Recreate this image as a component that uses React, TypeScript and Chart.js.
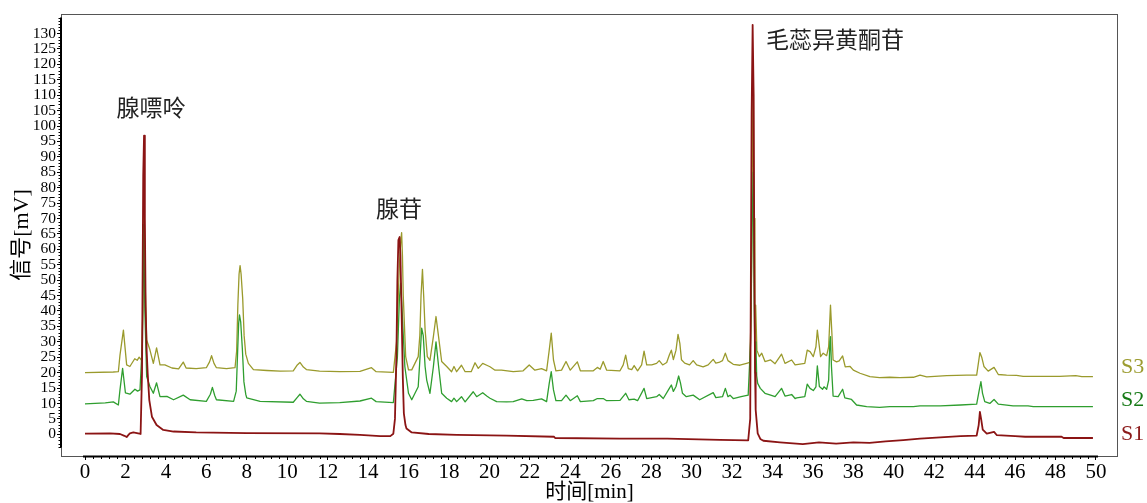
import { useEffect, useRef } from 'react';
import { Chart, registerables } from 'chart.js';
Chart.register(...registerables);

// ---- data ----
const xTickValues = [0, 2, 4, 6, 8, 10, 12, 14, 16, 18, 20, 22, 24, 26, 28, 30, 32, 34, 36, 38, 40, 42, 44, 46, 48, 50];
const yTickValues = [0, 5, 10, 15, 20, 25, 30, 35, 40, 45, 50, 55, 60, 65, 70, 75, 80, 85, 90, 95, 100, 105, 110, 115, 120, 125, 130];
const seriesNames = ['S1', 'S2', 'S3'];
const peakNames = ['腺嘌呤', '腺苷', '毛蕊异黄酮苷'];

// [time (min), signal (mV)]
const s1Points: [number, number][] = [
  [0, 0.2], [1.23, 0.3], [1.73, 0.1], [1.95, -0.5], [2.06, -0.9], [2.15, -0.2], [2.22, 0.3], [2.39, 0.6], [2.75, 0.1],
  [2.82, 20], [2.88, 84], [2.92, 96.9], [2.96, 70], [3.0, 41.4], [3.05, 27], [3.1, 19.8], [3.18, 11.1], [3.31, 5.7],
  [3.54, 3.0], [3.87, 1.4], [4.38, 0.9], [5.5, 0.6], [8.0, 0.4], [11.6, 0.3], [12.6, 0.1], [13.6, -0.2], [14.6, -0.6],
  [15.1, -0.6], [15.25, 0.2], [15.33, 5], [15.4, 25], [15.45, 50], [15.5, 63], [15.56, 64], [15.6, 58], [15.66, 39.2],
  [15.72, 18], [15.77, 6.8], [15.85, 3], [15.9, 1.9], [16.16, 0.6], [17.0, 0.1], [18.38, -0.2], [20.85, -0.4],
  [23.2, -0.8], [23.25, -1.2], [26.46, -1.4], [28.8, -1.4], [31.4, -1.8], [32.8, -2.0], [32.9, 5], [32.97, 104],
  [33.02, 132.8], [33.07, 110], [33.1, 60], [33.14, 20], [33.17, 7.9], [33.27, 0.3], [33.4, -1.5], [33.55, -2.1],
  [34.37, -2.6], [35.5, -3.2], [36.3, -2.6], [37.15, -3.0], [38.0, -2.6], [38.8, -2.8], [39.6, -2.3], [40.47, -1.9],
  [41.3, -1.4], [42.3, -1.0], [43.3, -0.6], [44.1, -0.4], [44.2, 3], [44.26, 7.3], [44.32, 5], [44.4, 1.5], [44.6, 0.2],
  [44.96, 0.8], [45.1, -0.3], [46.0, -0.6], [46.5, -0.8], [48.3, -0.8], [48.4, -1.2], [49.85, -1.2],
];

const s2Points: [number, number][] = [
  [0, 9.9], [1.0, 10.2], [1.4, 10.5], [1.65, 9.5], [1.73, 14.4], [1.86, 21.4], [2.0, 13.4], [2.22, 13.0], [2.47, 14.6],
  [2.6, 14.0], [2.72, 14.4], [2.84, 30], [2.9, 68], [2.96, 40], [3.05, 18.7], [3.21, 15.5], [3.38, 13.3], [3.54, 16.7],
  [3.71, 12.2], [4.05, 12.3], [4.38, 11.2], [4.86, 12.7], [5.2, 11.2], [6.0, 10.7], [6.2, 13], [6.3, 15.2], [6.42, 12.5],
  [6.5, 11.2], [7.35, 10.7], [7.48, 14], [7.55, 27], [7.6, 36], [7.64, 38.7], [7.7, 36.5], [7.78, 28], [7.86, 17],
  [7.95, 13], [8.0, 11.8], [8.66, 10.7], [10.3, 10.4], [10.5, 12], [10.63, 13], [10.8, 11.5], [10.95, 10.7], [11.6, 10.1],
  [12.6, 10.3], [13.6, 10.8], [14.17, 11.7], [14.4, 10.6], [15.25, 10.3], [15.45, 25], [15.55, 44], [15.61, 49],
  [15.67, 42], [15.72, 35], [15.82, 21.9], [16.0, 13.3], [16.16, 11.2], [16.48, 15.4], [16.57, 25], [16.65, 34.4],
  [16.73, 32], [16.82, 22], [16.9, 17.6], [17.06, 13.3], [17.23, 21.9], [17.36, 30], [17.49, 21.9], [17.64, 13.3],
  [17.89, 11.7], [18.13, 10.6], [18.25, 11.7], [18.38, 10.6], [18.62, 12.2], [18.8, 10.5], [19.2, 13.8], [19.37, 12.2],
  [19.67, 13.5], [19.87, 12.4], [20.03, 11.7], [20.36, 10.6], [20.85, 10.5], [21.18, 10.6], [21.6, 11.5], [21.85, 10.9],
  [22.17, 11.0], [22.58, 11.5], [22.83, 10.6], [22.96, 16.5], [23.06, 20.3], [23.17, 14.4], [23.29, 10.9], [23.57, 10.9],
  [23.79, 12.7], [24.0, 10.9], [24.35, 12.5], [24.5, 10.6], [25.14, 10.9], [25.34, 11.6], [25.63, 11.6], [25.8, 10.9],
  [26.46, 11.0], [26.74, 13.3], [26.9, 11.2], [27.16, 11.4], [27.33, 10.9], [27.65, 14.9], [27.78, 11.6], [28.27, 12.2],
  [28.4, 12.9], [28.6, 11.6], [28.9, 14.9], [29.0, 16], [29.1, 13.9], [29.23, 15.5], [29.36, 18.9], [29.45, 16.7],
  [29.55, 13.3], [29.74, 12.2], [30.08, 12.7], [30.4, 11.2], [31.07, 13.5], [31.2, 11.9], [31.53, 12.2], [31.67, 14.9],
  [31.8, 12.2], [31.9, 12.7], [32.06, 11.6], [32.45, 12.2], [32.8, 12.7], [32.92, 30], [33.0, 70], [33.05, 85],
  [33.1, 40], [33.15, 19.8], [33.18, 30], [33.22, 19], [33.27, 16.5], [33.4, 14.9], [33.63, 13.3], [33.91, 12.7],
  [34.13, 12.2], [34.45, 14.9], [34.62, 12.4], [34.95, 12.9], [35.12, 11.6], [35.2, 11.8], [35.6, 12.2], [35.72, 16.3],
  [35.86, 14.9], [36.02, 14.2], [36.15, 15.4], [36.22, 22.2], [36.28, 18.2], [36.32, 15.5], [36.48, 14.6], [36.55, 15.4],
  [36.68, 14.6], [36.78, 17.6], [36.84, 30], [36.87, 31.7], [36.92, 21.8], [37.0, 12.4], [37.25, 12.2], [37.47, 14.6],
  [37.58, 11.8], [37.91, 11.3], [38.16, 9.5], [38.66, 9.0], [39.3, 8.7], [39.8, 9.0], [40.97, 9.0], [41.3, 9.2],
  [42.3, 9.2], [43.3, 9.5], [44.1, 9.8], [44.23, 14.4], [44.31, 17.1], [44.39, 13.3], [44.5, 10.6], [44.75, 10.0],
  [44.96, 11.3], [45.17, 9.8], [45.9, 9.2], [46.64, 9.2], [46.9, 9.0], [48.2, 9.0], [49.85, 9.0],
];

const s3Points: [number, number][] = [
  [0, 20.0], [1.4, 20.2], [1.65, 20.3], [1.73, 25.7], [1.9, 33.8], [2.06, 22.5], [2.22, 22.0], [2.46, 24.5], [2.58, 24.0],
  [2.68, 25.0], [2.8, 24.0], [2.86, 40], [2.92, 80], [2.97, 50], [3.05, 30.6], [3.21, 27.4], [3.38, 23.0], [3.54, 28.0],
  [3.71, 22.5], [3.95, 22.5], [4.3, 21.5], [4.63, 21.2], [4.86, 23.4], [5.0, 21.5], [5.5, 21.3], [6.0, 21.6],
  [6.16, 23.5], [6.26, 25.5], [6.38, 23], [6.5, 21.6], [7.0, 21.3], [7.42, 21.6], [7.5, 27], [7.56, 42], [7.62, 52],
  [7.67, 54.7], [7.72, 52], [7.8, 44], [7.87, 32], [7.95, 26], [8.08, 23], [8.33, 21], [9.0, 20.7], [9.65, 20.5],
  [10.3, 20.6], [10.5, 22.5], [10.63, 23.3], [10.8, 21.8], [10.95, 21], [11.6, 20.5], [12.6, 20.3], [13.6, 20.4],
  [14.17, 21.6], [14.4, 20.3], [15.25, 20.1], [15.41, 30], [15.55, 55], [15.62, 63], [15.66, 65.4], [15.7, 58],
  [15.74, 45], [15.86, 25.2], [16.0, 20.9], [16.16, 20.9], [16.48, 25.2], [16.56, 32], [16.62, 45], [16.69, 53.5],
  [16.75, 45], [16.82, 34], [16.93, 25.2], [17.06, 24], [17.23, 31.7], [17.36, 38.2], [17.48, 32], [17.64, 23.6],
  [17.89, 22], [18.13, 20.3], [18.25, 22], [18.38, 20.3], [18.62, 22.4], [18.8, 20.3], [19.1, 20.3], [19.29, 23.2],
  [19.45, 21.4], [19.67, 23], [19.87, 22.4], [20.03, 21.9], [20.28, 20.8], [20.6, 20.8], [21.18, 20.3], [21.67, 20.6],
  [21.97, 22.5], [22.25, 20.8], [22.58, 21.3], [22.83, 20.6], [22.96, 27.3], [23.06, 32.8], [23.17, 24.1], [23.29, 20.6],
  [23.57, 20.8], [23.79, 23.6], [24.0, 20.8], [24.35, 23.5], [24.5, 20.6], [25.14, 20.6], [25.34, 21.7], [25.48, 21.1],
  [25.63, 23.6], [25.8, 20.8], [26.46, 20.6], [26.62, 22.5], [26.74, 25.7], [26.87, 21.3], [27.04, 21.0], [27.16, 22.3],
  [27.33, 20.6], [27.53, 22.5], [27.65, 27], [27.78, 22.5], [28.03, 22.5], [28.27, 23.0], [28.4, 23.9], [28.57, 22.5],
  [28.77, 23.3], [28.9, 25.7], [29.0, 27.3], [29.1, 24.2], [29.23, 27.3], [29.33, 32.4], [29.42, 29.5], [29.5, 24.2],
  [29.66, 23.1], [29.9, 22.5], [30.08, 23.9], [30.25, 22.5], [30.57, 21.9], [30.82, 22.5], [31.07, 24.3], [31.2, 23.1],
  [31.35, 23.3], [31.53, 23.9], [31.67, 26.3], [31.8, 23.9], [32.06, 22.7], [32.39, 22.4], [32.72, 23.0], [32.88, 23.3],
  [32.95, 40], [33.02, 100], [33.05, 120.3], [33.09, 70], [33.13, 30], [33.17, 41.9], [33.23, 27.3], [33.35, 25.2],
  [33.47, 26.3], [33.63, 23.6], [33.91, 24.1], [34.13, 22.9], [34.45, 26], [34.62, 23], [34.95, 24.1], [35.12, 22.5],
  [35.6, 23], [35.72, 27.3], [35.86, 26.8], [36.02, 25.2], [36.15, 28.4], [36.22, 33.8], [36.28, 30.6], [36.38, 25.2],
  [36.51, 26.3], [36.68, 25.5], [36.78, 28.4], [36.87, 41.9], [36.94, 32.7], [37.0, 24.1], [37.17, 23.5], [37.3, 23.8],
  [37.47, 25.4], [37.6, 21.9], [37.84, 22.0], [38.0, 20.8], [38.33, 19.8], [38.82, 18.7], [39.3, 18.4], [39.8, 18.5],
  [40.3, 18.4], [40.97, 18.5], [41.3, 19.2], [41.63, 18.6], [42.62, 19.0], [43.6, 19.2], [44.1, 19.2], [44.26, 26.5],
  [44.35, 25], [44.46, 22], [44.67, 20.5], [44.96, 21.7], [45.17, 19.4], [45.58, 19.2], [46.07, 19.1], [46.4, 18.8],
  [48.2, 18.8], [49.0, 19.0], [49.3, 18.7], [49.85, 18.7],
];

// ---- presentation ----
const lineColors = ['#8b1414', '#2f9e2f', '#9a9a2c'];
const nameColors = ['#8b1a1a', '#167a16', '#9c9c30'];
const nameAnchorValues = [0.1, 11.1, 21.6];
const peakAnchors: [number, number][] = [[3.26, 106.2], [15.53, 73.4], [37.09, 128.2]];
const SERIF = "'Liberation Serif', 'Times New Roman', serif";
const CJK = "'Liberation Serif', 'Noto Sans CJK SC', sans-serif";

const decorPlugin = {
  id: 'decor',
  beforeDatasetsDraw(chart: any) {
    const { ctx, chartArea: a } = chart;
    ctx.save();
    ctx.strokeStyle = '#555';
    ctx.lineWidth = 1;
    ctx.strokeRect(a.left + 0.5, a.top + 0.5, a.right - a.left - 1, a.bottom - a.top);
    ctx.restore();
  },
  afterDraw(chart: any) {
    const { ctx, chartArea: a, scales } = chart;
    const x = scales.x, y = scales.y;
    ctx.save();
    ctx.strokeStyle = '#000';
    ctx.lineWidth = 2;
    ctx.beginPath();
    ctx.moveTo(x.getPixelForValue(-0.1), a.bottom + 0.5);
    ctx.lineTo(x.getPixelForValue(50.1), a.bottom + 0.5);
    ctx.stroke();
    ctx.beginPath();
    ctx.moveTo(a.left, y.getPixelForValue(-4.3));
    ctx.lineTo(a.left, y.getPixelForValue(135.2));
    ctx.stroke();
    ctx.lineWidth = 1;
    ctx.beginPath();
    for (let i = 0; i <= 125; i++) {
      if (i % 5 === 0) continue;
      const px = Math.round(x.getPixelForValue(i * 0.4)) + 0.5;
      ctx.moveTo(px, a.bottom);
      ctx.lineTo(px, a.bottom + 3);
    }
    for (let v = -4; v <= 135; v++) {
      if (v % 5 === 0 && v >= 0 && v <= 130) continue;
      const py = Math.round(y.getPixelForValue(v)) + 0.5;
      ctx.moveTo(a.left - 2.5, py);
      ctx.lineTo(a.left, py);
    }
    ctx.stroke();
    ctx.font = `22px ${SERIF}`;
    ctx.textAlign = 'left';
    ctx.textBaseline = 'middle';
    seriesNames.forEach((n, i) => {
      ctx.fillStyle = nameColors[i];
      ctx.fillText(n, a.right + 3, y.getPixelForValue(nameAnchorValues[i]));
    });
    ctx.font = `23px 'Noto Sans CJK SC', sans-serif`;
    ctx.fillStyle = '#222';
    ctx.textAlign = 'center';
    peakNames.forEach((n, i) => {
      ctx.fillText(n, x.getPixelForValue(peakAnchors[i][0]), y.getPixelForValue(peakAnchors[i][1]));
    });
    ctx.restore();
  },
};

export default function App() {
  const ref = useRef<HTMLCanvasElement>(null);
  useEffect(() => {
    const series = [s1Points, s2Points, s3Points];
    const chart = new Chart(ref.current as HTMLCanvasElement, {
      type: 'line',
      data: {
        datasets: series.map((pts, i) => ({
          label: seriesNames[i],
          data: pts.map(([t, v]) => ({ x: t, y: v })),
          borderColor: lineColors[i],
          borderWidth: i === 0 ? 1.8 : 1.3,
          pointRadius: 0,
          tension: 0,
          fill: false,
        })),
      },
      options: {
        responsive: false,
        animation: false,
        devicePixelRatio: 1,
        layout: { padding: { left: 0, top: 14, right: 29, bottom: 0 } },
        plugins: { legend: { display: false }, tooltip: { enabled: false } },
        elements: { line: { borderJoinStyle: 'round' } },
        scales: {
          x: {
            type: 'linear',
            position: 'bottom',
            min: -1.187,
            max: 51.09,
            afterBuildTicks: (s: any) => { s.ticks = xTickValues.map((v) => ({ value: v })); },
            afterFit: (s: any) => { s.height = 47; },
            grid: { drawOnChartArea: false, drawTicks: true, tickLength: 4, tickColor: '#000', tickWidth: 1 },
            border: { display: false },
            ticks: {
              autoSkip: false, maxRotation: 0, padding: 0, color: '#000',
              font: { family: SERIF, size: 21 },
              callback: (v: any) => String(v),
            },
            title: { display: true, text: '时间[min]', color: '#000', padding: 0, font: { family: CJK, size: 21, lineHeight: 1 } },
          },
          y: {
            type: 'linear',
            position: 'left',
            min: -7.04,
            max: 136.33,
            afterBuildTicks: (s: any) => { s.ticks = yTickValues.map((v) => ({ value: v })); },
            afterFit: (s: any) => { s.width = 61; },
            grid: { drawOnChartArea: false, drawTicks: true, tickLength: 4, tickColor: '#000', tickWidth: 1 },
            border: { display: false },
            ticks: {
              autoSkip: false, padding: 1, color: '#000',
              font: { family: SERIF, size: 15.5 },
              callback: (v: any) => String(v),
            },
            title: { display: true, text: '信号[mV]', color: '#000', padding: { top: 11, bottom: 0 }, font: { family: CJK, size: 22, lineHeight: 1 } },
          },
        },
      },
      plugins: [decorPlugin],
    } as any);
    return () => chart.destroy();
  }, []);
  return (
    <div style={{ position: 'fixed', left: 0, top: 0, width: 1147, height: 503, background: '#fff' }}>
      <canvas ref={ref} width={1147} height={503} style={{ display: 'block', width: 1147, height: 503 }} />
    </div>
  );
}
